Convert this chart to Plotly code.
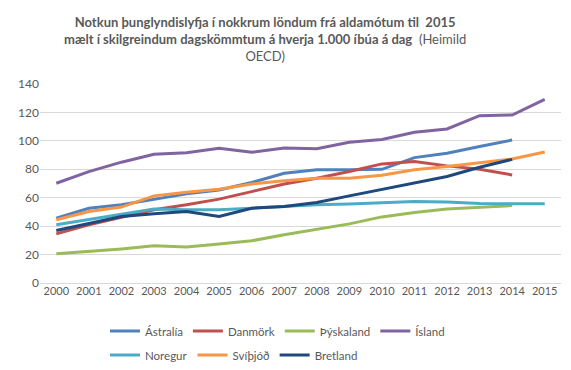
import plotly.graph_objects as go

years = [str(y) for y in range(2000, 2016)]

australia = [45.6, 52.6, 55, 59, 62.7, 65.5, 70.7, 77.2, 79.6, 79.6, 80, 88.2, 91.3, 96, 100.6]
danmork = [34.6, 41, 46.3, 51.5, 55, 59, 64.3, 69.7, 73.7, 78.4, 83.8, 85.4, 82.4, 80, 76]
thyskaland = [20.6, 22.2, 24, 26.2, 25.3, 27.5, 29.7, 33.9, 37.9, 41.6, 46.5, 49.6, 52, 53, 54.5]
island = [70.2, 78.4, 85, 90.6, 91.7, 94.8, 92, 95, 94.5, 99, 101, 106, 108.4, 117.7, 118.2, 129.2]
noregur = [41, 44.5, 48.4, 52, 51.5, 51.5, 52.6, 53.8, 55, 55.5, 56.5, 57.3, 57, 56, 55.7, 55.7]
svithjod = [44.5, 50.3, 53.4, 61.3, 63.9, 66, 69.7, 72, 73.7, 73.7, 75.8, 79.6, 82, 84.5, 87.3, 92.2]
bretland = [37, 42, 46.8, 48.7, 50.3, 46.8, 52.6, 53.8, 56.6, 61.3, 65.8, 70.7, 74.9, 81.4, 87]

series = [
    ("Ástralía", australia, "#4F81BD", "legend"),
    ("Danmörk", danmork, "#C0504D", "legend"),
    ("Þýskaland", thyskaland, "#9BBB59", "legend"),
    ("Ísland", island, "#8064A2", "legend"),
    ("Noregur", noregur, "#4BACC6", "legend2"),
    ("Svíþjóð", svithjod, "#F79646", "legend2"),
    ("Bretland", bretland, "#1F497D", "legend2"),
]

FONT = "Lato"
GRAY = "#595959"
W, H = 563, 362  # page body adds an 8px offset

fig = go.Figure()
for name, vals, color, lg in series:
    fig.add_trace(go.Scatter(
        x=years[:len(vals)], y=vals, name=name, mode="lines",
        line=dict(color=color, width=3), legend=lg,
    ))

legend_common = dict(
    orientation="h", xanchor="left", yanchor="middle", traceorder="normal",
    font=dict(family=FONT, size=11.5, color=GRAY),
    itemwidth=30, bgcolor="rgba(0,0,0,0)",
    xref="container", yref="container",
)

fig.update_layout(
    width=W, height=H,
    paper_bgcolor="white", plot_bgcolor="white",
    margin=dict(l=32, r=10, t=76, b=87, autoexpand=False),
    font=dict(family=FONT, color=GRAY),
    annotations=[dict(
        text="<b>Notkun þunglyndislyfja í nokkrum löndum frá aldamótum til  2015<br>"
             "mælt í skilgreindum dagskömmtum á hverja 1.000 íbúa á dag</b>  (Heimild<br>OECD)",
        xref="paper", yref="paper",
        x=(257 - 32) / 521, y=(275 - 4) / 199,
        xanchor="center", yanchor="top", showarrow=False, align="center",
        font=dict(family=FONT, size=13, color=GRAY),
    )],
    xaxis=dict(
        type="category", showgrid=False, showline=False, ticks="",
        tickfont=dict(family=FONT, size=11, color=GRAY),
        range=[-0.5, 15.5],
    ),
    yaxis=dict(
        range=[0, 140], dtick=20, showgrid=True, gridcolor="#D9D9D9", gridwidth=1,
        zeroline=True, zerolinecolor="#D9D9D9", zerolinewidth=1,
        showline=False, ticks="",
        tickfont=dict(family=FONT, size=12, color=GRAY),
    ),
    legend=dict(x=97 / W, y=1 - 323 / H, **legend_common),
    legend2=dict(x=97 / W, y=1 - 347 / H, **legend_common),
    showlegend=True,
)

fig.write_html("out.html")
